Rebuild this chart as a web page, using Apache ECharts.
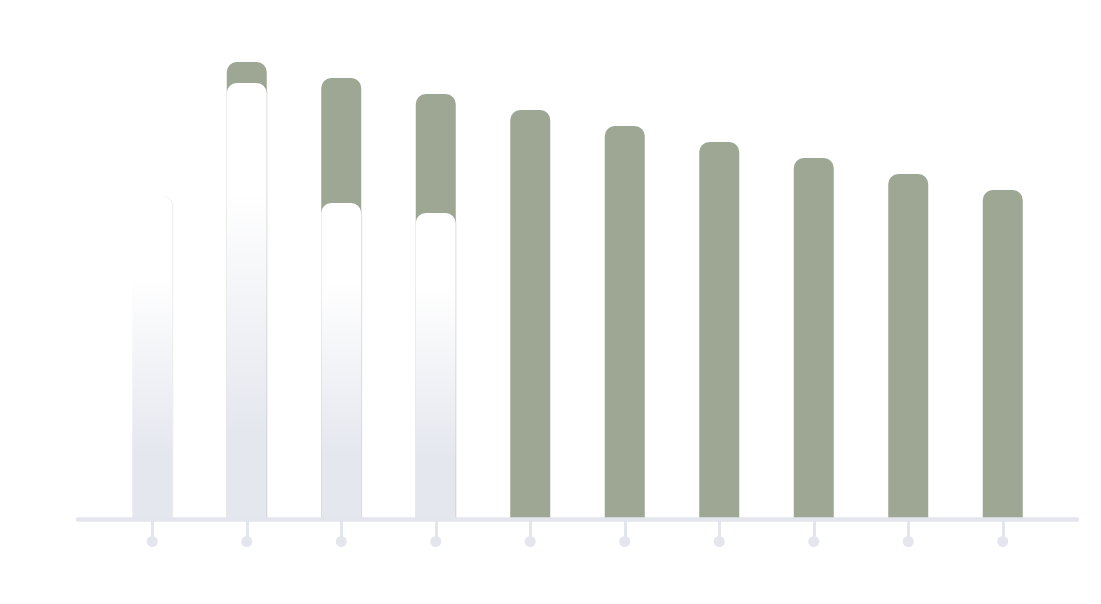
<!DOCTYPE html>
<html>
<head>
<meta charset="utf-8">
<script src="https://cdn.jsdelivr.net/npm/echarts@6/dist/echarts.min.js"></script>
<style>
html,body{margin:0;padding:0;background:#fff;}
#chart{width:1101px;height:604px;}
</style>
</head>
<body>
<div id="chart"></div>
<script>
const categories = ['1','2','3','4','5','6','7','8','9','10'];
const backValues = ['-', 457, 441, 425, 409, 393, 377, 361, 345, 329];
const frontValues = [323, 436, 316, 306, '-', '-', '-', '-', '-', '-'];

const axisColor = '#e4e6ee';
const chart = echarts.init(document.getElementById('chart'));
chart.setOption({
  animation: false,
  backgroundColor: '#ffffff',
  grid: [
    { left: 105, right: 51, top: 19, bottom: 85 },
    { left: 78, right: 24, top: 19, bottom: 85 }
  ],
  xAxis: [
    {
      type: 'category', gridIndex: 0, data: categories,
      axisLine: { show: false },
      axisTick: { show: true, alignWithLabel: true, length: 18, lineStyle: { color: axisColor, width: 3 } },
      axisLabel: {
        margin: 17,
        formatter: function () { return '{c|}'; },
        rich: { c: { width: 11, height: 11, borderRadius: 6, backgroundColor: axisColor } }
      },
      splitLine: { show: false }
    },
    {
      type: 'value', gridIndex: 1, min: 0, max: 1, z: 10,
      axisLine: { show: true, lineStyle: { color: axisColor, width: 4.5, cap: 'round' } },
      axisTick: { show: false }, axisLabel: { show: false }, splitLine: { show: false }
    }
  ],
  yAxis: [
    { type: 'value', gridIndex: 0, min: 0, max: 500, show: false, splitLine: { show: false } },
    { type: 'value', gridIndex: 1, min: 0, max: 1, show: false, splitLine: { show: false } }
  ],
  series: [
    {
      type: 'bar', xAxisIndex: 0, yAxisIndex: 0, data: backValues,
      barWidth: 40, barGap: '-100%',
      itemStyle: { color: '#9ea794', borderRadius: [10, 10, 0, 0] }
    },
    {
      type: 'bar', xAxisIndex: 0, yAxisIndex: 0, data: frontValues,
      barWidth: 40, barGap: '-100%',
      itemStyle: {
        borderRadius: [10, 10, 0, 0],
        color: new echarts.graphic.LinearGradient(0, 0, 0, 1, [
          { offset: 0, color: '#ffffff' },
          { offset: 0.25, color: '#ffffff' },
          { offset: 0.8, color: '#e5e7ef' },
          { offset: 1, color: '#e5e7ef' }
        ]),
        shadowColor: 'rgba(0,0,0,0.07)', shadowOffsetX: 1, shadowBlur: 0
      }
    }
  ]
});
</script>
</body>
</html>
